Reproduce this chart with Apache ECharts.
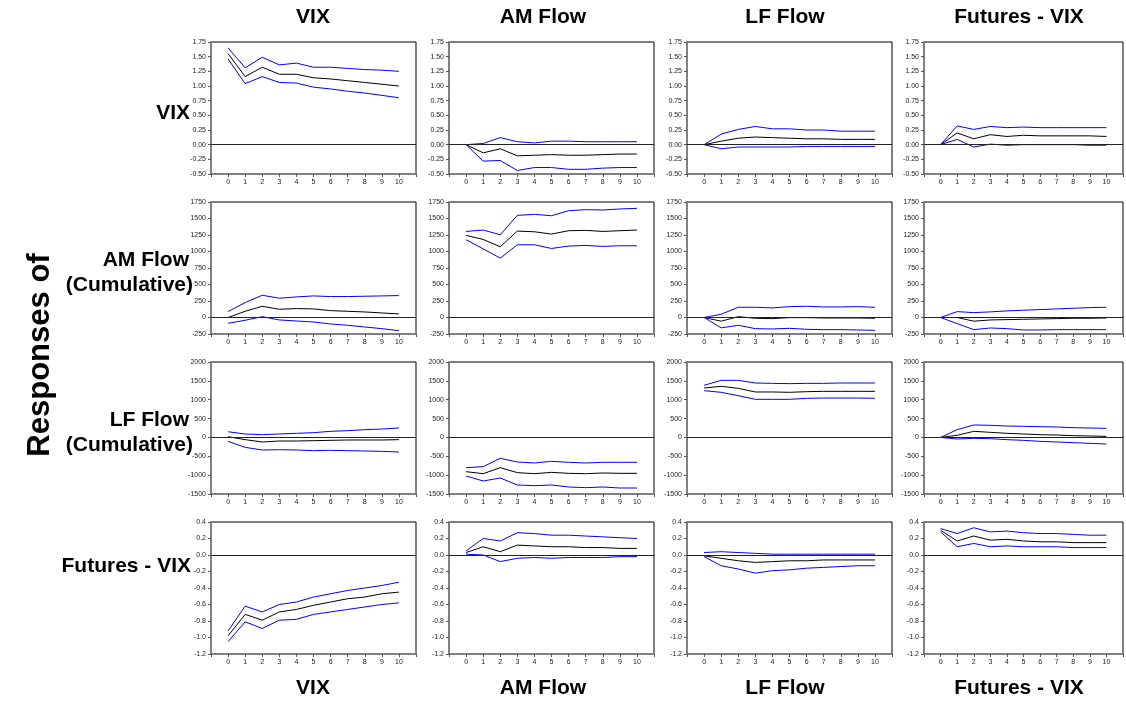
<!DOCTYPE html>
<html>
<head>
<meta charset="utf-8">
<script src="https://cdn.jsdelivr.net/npm/echarts@6/dist/echarts.min.js"></script>
<style>
  html, body { margin: 0; padding: 0; background: #fff; }
  #main { width: 1126px; height: 702px; }
</style>
</head>
<body>
<div id="main"></div>
<script>
// horizons (x ticks) and the variable names
var horizons = [0, 1, 2, 3, 4, 5, 6, 7, 8, 9, 10];
var variables = ["VIX", "AM Flow", "LF Flow", "Futures - VIX"];

// y axis per response row
var rowMin = [-0.5, -250, -1500, -1.2];
var rowMax = [1.75, 1750, 2000, 0.4];
var rowStep = [0.25, 250, 500, 0.2];
var rowDecimals = [2, 0, 0, 1];

// row 1: responses of VIX  (hi / mid / lo band)
var vix_vix_hi  = [1.65, 1.31, 1.49, 1.36, 1.39, 1.32, 1.32, 1.30, 1.28, 1.27, 1.25];
var vix_vix_mid = [1.55, 1.16, 1.32, 1.20, 1.20, 1.14, 1.12, 1.09, 1.06, 1.03, 1.00];
var vix_vix_lo  = [1.46, 1.04, 1.16, 1.06, 1.05, 0.98, 0.95, 0.91, 0.88, 0.84, 0.80];
var vix_am_hi   = [0, 0.02, 0.12, 0.05, 0.03, 0.06, 0.06, 0.05, 0.05, 0.05, 0.05];
var vix_am_mid  = [0, -0.14, -0.07, -0.19, -0.18, -0.17, -0.18, -0.18, -0.17, -0.16, -0.16];
var vix_am_lo   = [0, -0.28, -0.27, -0.44, -0.39, -0.39, -0.42, -0.42, -0.40, -0.39, -0.39];
var vix_lf_hi   = [0, 0.18, 0.26, 0.31, 0.27, 0.27, 0.25, 0.25, 0.23, 0.23, 0.23];
var vix_lf_mid  = [0, 0.06, 0.11, 0.13, 0.12, 0.11, 0.10, 0.10, 0.09, 0.09, 0.09];
var vix_lf_lo   = [0, -0.07, -0.04, -0.04, -0.04, -0.04, -0.03, -0.03, -0.03, -0.03, -0.03];
var vix_fut_hi  = [0, 0.32, 0.26, 0.31, 0.29, 0.30, 0.29, 0.29, 0.29, 0.29, 0.29];
var vix_fut_mid = [0, 0.20, 0.10, 0.17, 0.14, 0.16, 0.15, 0.15, 0.15, 0.15, 0.14];
var vix_fut_lo  = [0, 0.09, -0.04, 0.01, -0.01, 0.00, 0.00, 0.00, 0.00, -0.01, -0.01];

// row 2: responses of AM Flow (cumulative)
var am_vix_hi  = [90, 226, 337, 292, 312, 327, 317, 317, 322, 327, 332];
var am_vix_mid = [0, 94, 170, 125, 135, 130, 104, 94, 84, 69, 54];
var am_vix_lo  = [-88, -42, 13, -37, -53, -68, -98, -118, -144, -169, -200];
var am_am_hi   = [1304, 1325, 1254, 1547, 1563, 1542, 1618, 1634, 1629, 1644, 1654];
var am_am_mid  = [1244, 1183, 1072, 1309, 1299, 1264, 1315, 1320, 1304, 1315, 1325];
var am_am_lo   = [1178, 1041, 899, 1102, 1102, 1046, 1082, 1092, 1077, 1087, 1087];
var am_lf_hi   = [0, 49, 155, 155, 145, 165, 170, 160, 160, 165, 155];
var am_lf_mid  = [0, -56, 13, -12, -17, -2, -2, -7, -7, -7, -12];
var am_lf_lo   = [0, -157, -118, -169, -174, -164, -179, -184, -184, -189, -194];
var am_fut_hi  = [0, 89, 74, 85, 100, 110, 120, 130, 140, 150, 155];
var am_fut_mid = [0, 0, -56, -37, -32, -27, -22, -17, -12, -12, -7];
var am_fut_lo  = [0, -93, -184, -159, -169, -189, -189, -184, -184, -184, -184];

// row 3: responses of LF Flow (cumulative)
var lf_vix_hi  = [150, 91, 73, 91, 109, 126, 162, 179, 206, 223, 250];
var lf_vix_mid = [20, -59, -121, -95, -95, -86, -77, -68, -68, -68, -59];
var lf_vix_lo  = [-104, -263, -333, -325, -333, -351, -342, -351, -360, -369, -386];
var lf_am_hi   = [-802, -775, -554, -652, -678, -634, -660, -678, -660, -660, -660];
var lf_am_mid  = [-908, -961, -802, -934, -961, -926, -952, -961, -943, -952, -952];
var lf_am_lo   = [-1023, -1155, -1076, -1261, -1279, -1261, -1314, -1332, -1314, -1341, -1341];
var lf_lf_hi   = [1381, 1514, 1514, 1443, 1434, 1426, 1434, 1434, 1443, 1443, 1443];
var lf_lf_mid  = [1311, 1355, 1302, 1205, 1205, 1196, 1213, 1222, 1222, 1222, 1222];
var lf_lf_lo   = [1240, 1196, 1107, 1010, 1010, 1010, 1037, 1045, 1045, 1045, 1037];
var lf_fut_hi  = [0, 206, 330, 321, 303, 294, 285, 277, 259, 250, 241];
var lf_fut_mid = [0, 55, 162, 135, 109, 91, 73, 64, 47, 38, 29];
var lf_fut_lo  = [0, -42, -24, -33, -59, -77, -104, -121, -139, -157, -174];

// row 4: responses of Futures - VIX
var fut_vix_hi  = [-0.92, -0.62, -0.69, -0.60, -0.57, -0.51, -0.47, -0.43, -0.40, -0.37, -0.33];
var fut_vix_mid = [-0.98, -0.72, -0.79, -0.69, -0.66, -0.61, -0.57, -0.53, -0.51, -0.47, -0.45];
var fut_vix_lo  = [-1.05, -0.81, -0.89, -0.79, -0.78, -0.72, -0.69, -0.66, -0.63, -0.60, -0.58];
var fut_am_hi   = [0.05, 0.20, 0.17, 0.27, 0.26, 0.24, 0.24, 0.23, 0.22, 0.21, 0.20];
var fut_am_mid  = [0.03, 0.10, 0.04, 0.12, 0.11, 0.10, 0.10, 0.09, 0.09, 0.08, 0.08];
var fut_am_lo   = [0.01, 0.00, -0.08, -0.04, -0.03, -0.04, -0.03, -0.03, -0.03, -0.02, -0.02];
var fut_lf_hi   = [0.03, 0.04, 0.03, 0.02, 0.01, 0.01, 0.01, 0.01, 0.01, 0.01, 0.01];
var fut_lf_mid  = [-0.01, -0.04, -0.07, -0.09, -0.08, -0.07, -0.07, -0.06, -0.06, -0.06, -0.06];
var fut_lf_lo   = [-0.02, -0.13, -0.17, -0.22, -0.19, -0.18, -0.16, -0.15, -0.14, -0.13, -0.13];
var fut_fut_hi  = [0.32, 0.26, 0.33, 0.28, 0.29, 0.27, 0.26, 0.26, 0.25, 0.24, 0.24];
var fut_fut_mid = [0.30, 0.17, 0.23, 0.18, 0.19, 0.17, 0.16, 0.16, 0.15, 0.15, 0.15];
var fut_fut_lo  = [0.28, 0.10, 0.14, 0.10, 0.11, 0.10, 0.10, 0.10, 0.09, 0.09, 0.09];

// panels[row][col] = [hi, mid, lo]
var panels = [
  [[vix_vix_hi, vix_vix_mid, vix_vix_lo], [vix_am_hi, vix_am_mid, vix_am_lo], [vix_lf_hi, vix_lf_mid, vix_lf_lo], [vix_fut_hi, vix_fut_mid, vix_fut_lo]],
  [[am_vix_hi, am_vix_mid, am_vix_lo], [am_am_hi, am_am_mid, am_am_lo], [am_lf_hi, am_lf_mid, am_lf_lo], [am_fut_hi, am_fut_mid, am_fut_lo]],
  [[lf_vix_hi, lf_vix_mid, lf_vix_lo], [lf_am_hi, lf_am_mid, lf_am_lo], [lf_lf_hi, lf_lf_mid, lf_lf_lo], [lf_fut_hi, lf_fut_mid, lf_fut_lo]],
  [[fut_vix_hi, fut_vix_mid, fut_vix_lo], [fut_am_hi, fut_am_mid, fut_am_lo], [fut_lf_hi, fut_lf_mid, fut_lf_lo], [fut_fut_hi, fut_fut_mid, fut_fut_lo]]
];

var FONT = '"Liberation Sans", Arial, sans-serif';
var colLeft = [211, 449, 687, 924];
var rowTop = [42, 202, 362, 522];
var panelW = 205, panelH = 132;
var titleX = [313, 543, 785, 1019];

var myChart = echarts.init(document.getElementById("main"));

var grids = [], xAxes = [], yAxes = [], series = [];
for (var r = 0; r < 4; r++) {
  for (var c = 0; c < 4; c++) {
    var gi = grids.length;
    grids.push({
      left: colLeft[c], top: rowTop[r], width: panelW, height: panelH,
      show: true, borderColor: "#000", borderWidth: 1, backgroundColor: "transparent"
    });
    xAxes.push({
      gridIndex: gi, type: "value", min: -1, max: 11, interval: 1,
      axisLine: { show: true, onZero: false, lineStyle: { color: "#808080", width: 2 } },
      axisTick: { show: true, length: 3, lineStyle: { color: "#555" } },
      axisLabel: {
        fontSize: 7, color: "#222", fontFamily: FONT, margin: 5,
        formatter: function (v) { return (v < 0 || v > 10) ? "" : String(v); }
      },
      splitLine: { show: false }
    });
    (function (dec) {
      yAxes.push({
        gridIndex: gi, type: "value", min: rowMin[r], max: rowMax[r], interval: rowStep[r],
        axisLine: { show: true, onZero: false, lineStyle: { color: "#808080", width: 2 } },
        axisTick: { show: true, length: 3, lineStyle: { color: "#555" } },
        axisLabel: {
          fontSize: 7, color: "#222", fontFamily: FONT, margin: 5,
          formatter: function (v) {
            if (Math.abs(v) < 1e-9) v = 0;
            return v.toFixed(dec);
          }
        },
        splitLine: { show: false }
      });
    })(rowDecimals[r]);

    var bands = panels[r][c];
    var colors = ["#0000ff", "#000000", "#0000ff"];
    for (var k = 0; k < 3; k++) {
      var s = {
        type: "line", xAxisIndex: gi, yAxisIndex: gi,
        data: horizons.map(function (h, i) { return [h, bands[k][i]]; }),
        symbol: "none", silent: true,
        lineStyle: { color: colors[k], width: 1 },
        z: k === 1 ? 4 : 3
      };
      if (k === 1) {
        s.markLine = {
          silent: true, symbol: ["none", "none"], label: { show: false },
          lineStyle: { color: "#222", width: 1.2, type: "solid" },
          data: [{ yAxis: 0 }]
        };
      }
      series.push(s);
    }
  }
}

var graphics = [];
function addText(text, x, y, align, rot, size) {
  graphics.push({
    type: "text", x: x, y: y, rotation: rot || 0,
    style: {
      text: text, fill: "#000", align: align, verticalAlign: "middle",
      font: "bold " + (size || 21) + "px " + FONT
    }
  });
}
for (var c2 = 0; c2 < 4; c2++) {
  addText(variables[c2], titleX[c2], 17, "center");
  addText(variables[c2], titleX[c2], 688, "center");
}
addText("VIX", 190, 113, "right");
addText("AM Flow", 189, 260, "right");
addText("(Cumulative)", 193, 285, "right");
addText("LF Flow", 189, 420, "right");
addText("(Cumulative)", 193, 445, "right");
addText("Futures - VIX", 191, 566, "right");
addText("Responses of", 40, 355, "center", Math.PI / 2, 31);

myChart.setOption({
  animation: false,
  backgroundColor: "#fff",
  grid: grids,
  xAxis: xAxes,
  yAxis: yAxes,
  series: series,
  graphic: graphics
});
</script>
</body>
</html>
